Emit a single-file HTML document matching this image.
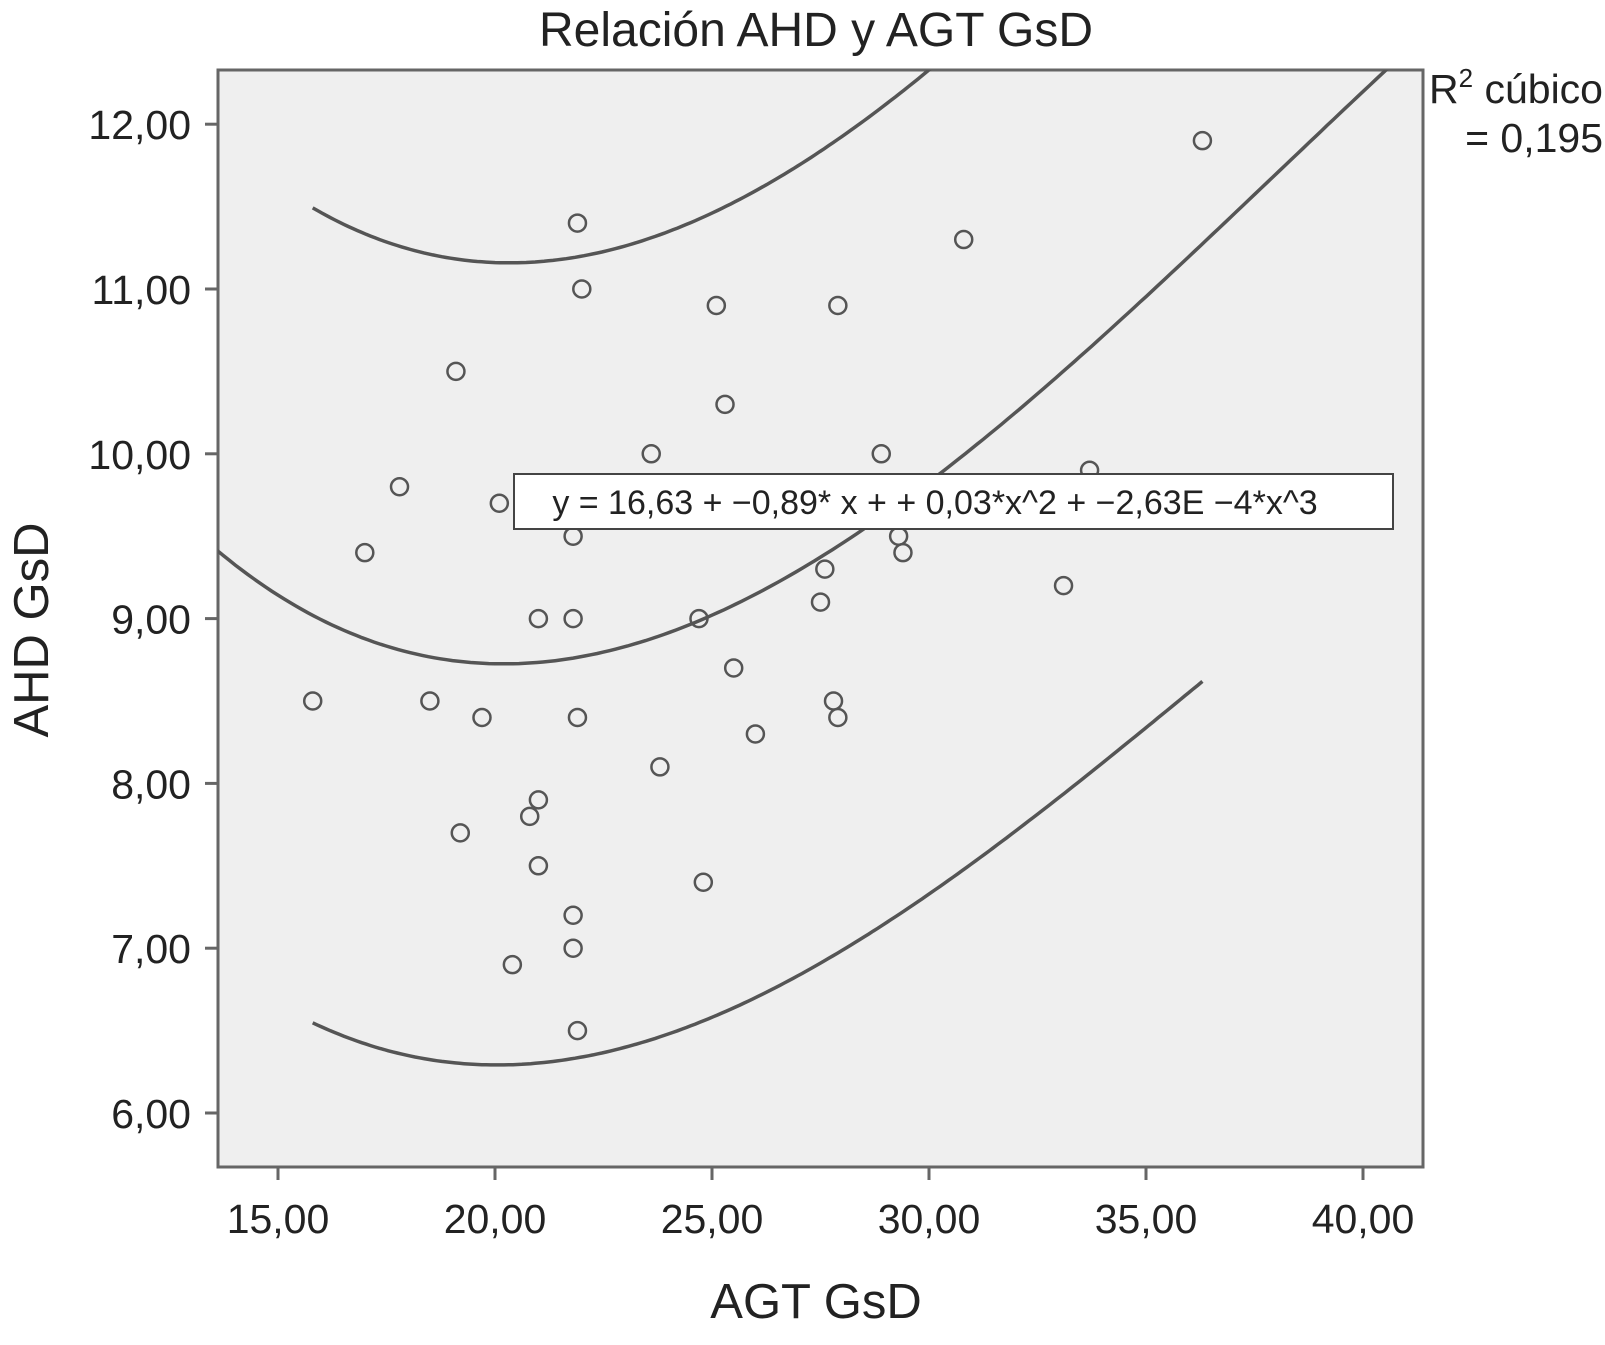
<!DOCTYPE html>
<html><head><meta charset="utf-8"><style>
html,body{margin:0;padding:0;background:#fff;}
svg text{font-family:"Liberation Sans",Arial,sans-serif;fill:#222;}
</style></head><body>
<svg id="chart" width="1605" height="1340" viewBox="0 0 1605 1340" xmlns="http://www.w3.org/2000/svg">
<defs><clipPath id="clip"><rect x="218" y="70" width="1205" height="1097"/></clipPath></defs>
<text x="816" y="46" font-size="48" text-anchor="middle">Relación AHD y AGT GsD</text>
<rect x="218" y="70" width="1205" height="1097" fill="#efefef" stroke="#666" stroke-width="3"/>
<g id="marks"></g>
<g id="axes"></g>
<rect x="514" y="474" width="879" height="55" fill="#fff" stroke="#444" stroke-width="2"/>
<text x="935" y="514" font-size="34" text-anchor="middle">y = 16,63 + −0,89* x + + 0,03*x^2 + −2,63E −4*x^3</text>
<text x="1603" y="103" font-size="41" text-anchor="end">R<tspan font-size="26" dy="-16">2</tspan><tspan dy="16"> cúbico</tspan></text>
<text x="1603" y="152" font-size="41" text-anchor="end">= 0,195</text>
<text x="816" y="1318" font-size="49" text-anchor="middle">AGT GsD</text>
<text transform="translate(48,630) rotate(-90)" font-size="49" text-anchor="middle">AHD GsD</text>
</svg>
<script>
const xTicks=[15,20,25,30,35,40];
const yTicks=[6,7,8,9,10,11,12];
const xTickLabels=["15,00","20,00","25,00","30,00","35,00","40,00"];
const yTickLabels=["6,00","7,00","8,00","9,00","10,00","11,00","12,00"];
const xValues=[36.3,21.9,30.8,22.0,25.1,27.9,19.1,25.3,23.6,28.9,33.7,17.8,20.1,21.8,29.3,17.0,29.4,27.6,27.5,33.1,21.0,21.8,24.7,25.5,15.8,18.5,27.8,19.7,21.9,27.9,26.0,23.8,21.0,20.8,19.2,21.0,24.8,21.8,21.8,20.4,21.9];
const yValues=[11.9,11.4,11.3,11.0,10.9,10.9,10.5,10.3,10.0,10.0,9.9,9.8,9.7,9.5,9.5,9.4,9.4,9.3,9.1,9.2,9.0,9.0,9.0,8.7,8.5,8.5,8.5,8.4,8.4,8.4,8.3,8.1,7.9,7.8,7.7,7.5,7.4,7.2,7.0,6.9,6.5];
const coef=[16.63,-0.89,0.03,-2.63e-4];
const NS="http://www.w3.org/2000/svg";
const sx=v=>278+(v-15)*43.4;
const sy=v=>1113-(v-6)*164.8;
const fit=x=>coef[0]+coef[1]*x+coef[2]*x*x+coef[3]*x*x*x;
const hw=x=>2.43+0.0011*(x-22)*(x-22);
const marks=document.getElementById('marks');
const axes=document.getElementById('axes');
function mk(t,a,p){const e=document.createElementNS(NS,t);for(const k in a)e.setAttribute(k,a[k]);p.appendChild(e);return e;}
function curve(f,x0,x1,name){let d="";for(let i=0;i<=200;i++){const x=x0+(x1-x0)*i/200;d+=(i?"L":"M")+sx(x).toFixed(1)+","+sy(f(x)).toFixed(1);}
const p=mk('path',{d:d,fill:'none',stroke:'#555','stroke-width':3.5,'clip-path':'url(#clip)'},marks);

}
curve(fit,13.6,41.4,'fit-line');
curve(x=>fit(x)+hw(x),15.8,36.3,'upper-interval-line');
curve(x=>fit(x)-hw(x),15.8,36.3,'lower-interval-line');
xValues.forEach((x,i)=>{const c=mk('circle',{cx:sx(x),cy:sy(yValues[i]),r:8.5,fill:'none',stroke:'#555','stroke-width':2.5},marks);

});
xTicks.forEach((v,i)=>{const l=mk('line',{x1:sx(v),x2:sx(v),y1:1167,y2:1180,stroke:'#666','stroke-width':3},axes);


const t=mk('text',{x:sx(v),y:1233,'font-size':41,'text-anchor':'middle'},axes);t.textContent=xTickLabels[i];

});
yTicks.forEach((v,i)=>{const l=mk('line',{x1:205,x2:218,y1:sy(v),y2:sy(v),stroke:'#666','stroke-width':3},axes);


const t=mk('text',{x:191,y:sy(v)+15,'font-size':41,'text-anchor':'end'},axes);t.textContent=yTickLabels[i];

});
</script>
</body></html>
